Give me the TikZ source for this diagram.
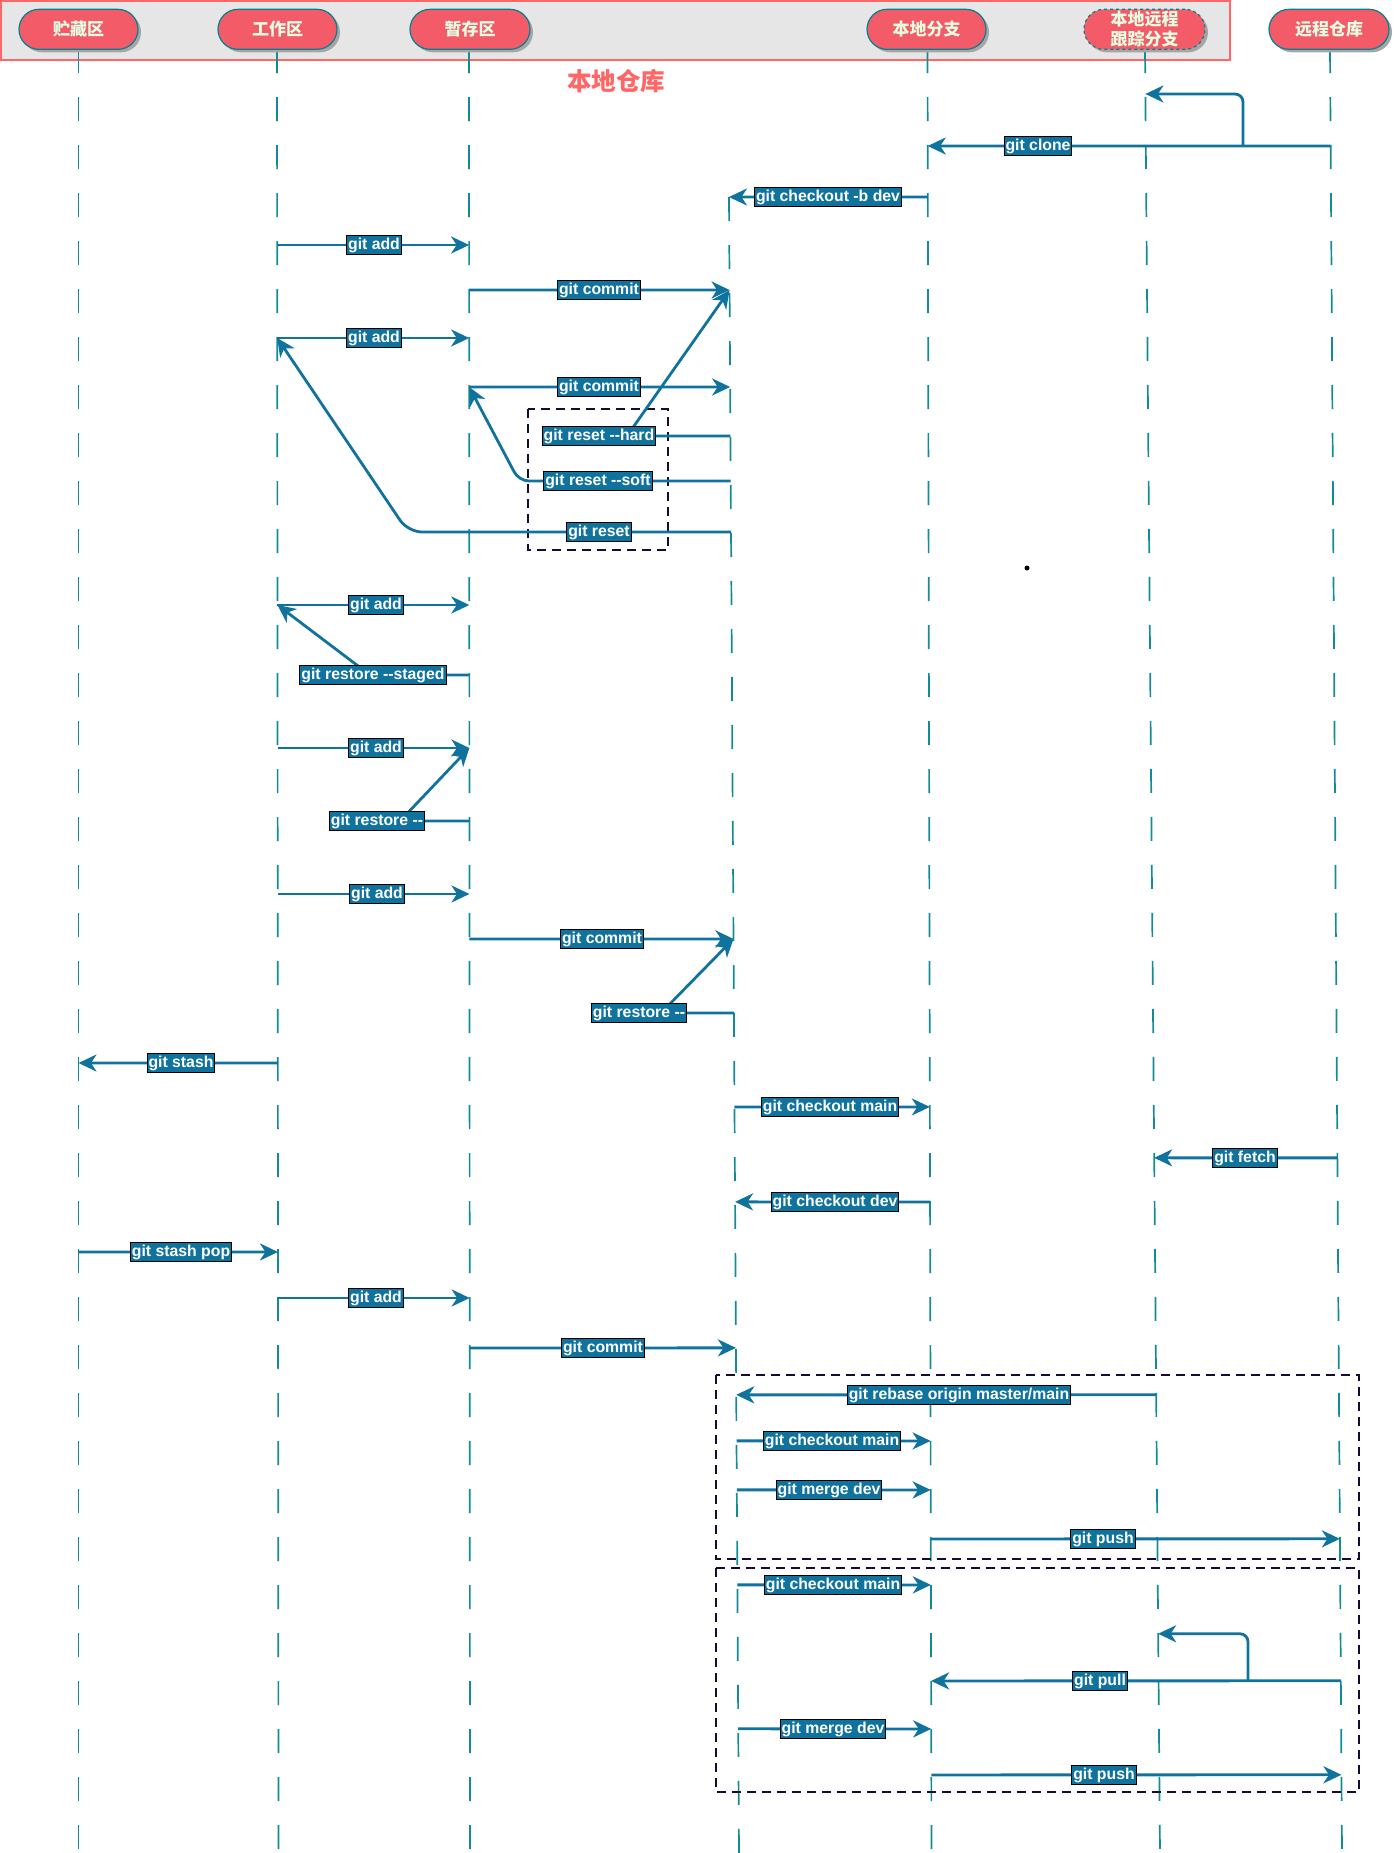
\documentclass[tikz,border=0pt]{standalone}
\usepackage{fontspec}
\setmainfont{Liberation Sans}
\newfontfamily\cjk{Noto Sans CJK SC}
\newfontfamily\lblf{Liberation Sans}
\usetikzlibrary{calc,arrows.meta,shadows}
\definecolor{msgc}{HTML}{10739E}
\definecolor{lifec}{HTML}{138A97}
\definecolor{pillf}{HTML}{F45B69}
\definecolor{pilld}{HTML}{028090}
\definecolor{pillt}{HTML}{E4FDE1}
\definecolor{hdrf}{HTML}{E6E6E6}
\definecolor{hdrd}{HTML}{FF6666}
\definecolor{grp}{HTML}{1A0A33}
\newcommand\mkpt[3]{\coordinate (tmp) at (#2t |- 0,#3);\coordinate (#1) at ($(#2t)!(tmp)!(#2b)$);}
\begin{document}
\begin{tikzpicture}[x=1pt,y=-1pt,
  lifeline/.style={draw=lifec, line width=1.7pt, dash pattern=on 24pt off 24pt},
  pill/.style={rectangle, rounded corners=20pt, minimum height=40pt, fill=pillf, draw=pilld, line width=1.2pt,
     text=pillt, font=\cjk\bfseries\fontsize{17}{19.5}\selectfont, align=center, inner ysep=1pt,
     drop shadow={shadow xshift=3pt, shadow yshift=-3pt, fill=black!35, opacity=1}},
  msg/.style={draw=msgc, line width=2.8pt, line join=round, -{Stealth[length=18pt,width=17pt,inset=5.5pt]}},
  lbl/.style={draw=black, line width=1pt, fill=msgc, text=white, font=\lblf\bfseries\fontsize{15.8}{18}\selectfont,
     inner xsep=1.5pt, inner ysep=2pt, text height=12pt, text depth=3.5pt},
  grpbox/.style={draw=grp, line width=2.8pt, dash pattern=on 9pt off 6pt}
]
\useasboundingbox (0,0) rectangle (1393,1853);
% header band
\draw[fill=hdrf, draw=hdrd, line width=1.5pt] (0.75,0.75) rectangle (1230,60);
\node[text=hdrd, font=\cjk\bfseries\fontsize{24.5}{28}\selectfont] (title) at (616,81) {本地仓库};
% lifelines
\coordinate (L1t) at (78.5,49);  \coordinate (L1b) at (78.5,1853);
\coordinate (L2t) at (277,49);   \coordinate (L2b) at (278.5,1853);
\coordinate (L3t) at (469,49);   \coordinate (L3b) at (470,1853);
\coordinate (L4t) at (729,197);  \coordinate (L4b) at (739,1853);
\coordinate (L5t) at (927.5,49); \coordinate (L5b) at (931.5,1853);
\coordinate (L6t) at (1145,49);  \coordinate (L6b) at (1160,1853);
\coordinate (L7t) at (1330,49);  \coordinate (L7b) at (1342,1853);
\foreach \i in {1,...,7} {\draw[lifeline] (L\i t) -- (L\i b);}
% participants
\node[pill, minimum width=119pt] (p1) at (78.5,29.3) {贮藏区};
\node[pill, minimum width=119pt] (p2) at (277.5,29.3) {工作区};
\node[pill, minimum width=120pt] (p3) at (470,29.3) {暂存区};
\node[pill, minimum width=119pt] (p5) at (926.5,29.3) {本地分支};
\node[pill, minimum width=121pt, dashed] (p6) at (1144.5,29.3) {本地远程\\跟踪分支};
\node[pill, minimum width=120pt] (p7) at (1329,29.3) {远程仓库};
% group boxes
\draw[grpbox] (528,409) rectangle (668,550);
\draw[grpbox] (716,1375) rectangle (1359,1559);
\draw[grpbox] (716,1568) rectangle (1359,1792);
% dot
\fill[black] (1027,568) circle (2.5pt);
% message end points
\mkpt{c7}{L7}{146} \mkpt{c5}{L5}{146} \mkpt{c6}{L6}{94} \coordinate (cbr) at (1243,146);
\mkpt{b5}{L5}{197} \mkpt{b4}{L4}{197}
\mkpt{a1s}{L2}{245} \mkpt{a1e}{L3}{245}
\mkpt{m1s}{L3}{290} \mkpt{m1e}{L4}{290}
\mkpt{a2s}{L2}{338} \mkpt{a2e}{L3}{338}
\mkpt{m2s}{L3}{387} \mkpt{m2e}{L4}{387}
\mkpt{rh}{L4}{436} \coordinate (rhc) at (627,436);
\mkpt{rs}{L4}{481} \coordinate (rsc) at (519,481);
\mkpt{rr}{L4}{532} \coordinate (rrc) at (408,532);
\mkpt{a3s}{L2}{605} \mkpt{a3e}{L3}{605}
\mkpt{rgs}{L3}{675} \coordinate (rgc) at (370,675);
\mkpt{a4s}{L2}{748} \mkpt{a4e}{L3}{748}
\mkpt{r1s}{L3}{821} \coordinate (r1c) at (400,821);
\mkpt{a5s}{L2}{894} \mkpt{a5e}{L3}{894}
\mkpt{m3s}{L3}{939} \mkpt{m3e}{L4}{939}
\mkpt{r2s}{L4}{1013} \coordinate (r2c) at (661,1013);
\mkpt{sts}{L2}{1063} \mkpt{ste}{L1}{1063}
\mkpt{k1s}{L4}{1107} \mkpt{k1e}{L5}{1107}
\mkpt{fs}{L7}{1158} \mkpt{fe}{L6}{1158}
\mkpt{kds}{L5}{1202} \mkpt{kde}{L4}{1202}
\mkpt{sps}{L1}{1252} \mkpt{spe}{L2}{1252}
\mkpt{a6s}{L2}{1298} \mkpt{a6e}{L3}{1298}
\mkpt{m4s}{L3}{1348} \mkpt{m4e}{L4}{1348}
\mkpt{rbs}{L6}{1395} \mkpt{rbe}{L4}{1395}
\mkpt{k2s}{L4}{1441} \mkpt{k2e}{L5}{1441}
\mkpt{g1s}{L4}{1490} \mkpt{g1e}{L5}{1490}
\mkpt{p1s}{L5}{1539} \mkpt{p1e}{L7}{1539}
\mkpt{k3s}{L4}{1585} \mkpt{k3e}{L5}{1585}
\mkpt{pls}{L7}{1681} \mkpt{ple}{L5}{1681} \mkpt{plt}{L6}{1634} \coordinate (plbr) at (1248,1681);
\mkpt{g2s}{L4}{1729} \mkpt{g2e}{L5}{1729}
\mkpt{p2s}{L5}{1775} \mkpt{p2e}{L7}{1775}
% messages
\draw[msg] (c7) -- (c5);
\draw[msg, rounded corners=8pt] (cbr) |- (c6);
\draw[msg] (b5) -- (b4);
\draw[msg] (a1s) -- (a1e);
\draw[msg] (m1s) -- (m1e);
\draw[msg] (a2s) -- (a2e);
\draw[msg] (m2s) -- (m2e);
\draw[msg] (rh) -- (rhc) -- (m1e);
\draw[msg, rounded corners=10pt] (rs) -- (rsc) -- (m2s);
\draw[msg, rounded corners=14pt] (rr) -- (rrc) -- (a2s);
\draw[msg] (a3s) -- (a3e);
\draw[msg] (rgs) -- (rgc) -- (a3s);
\draw[msg] (a4s) -- (a4e);
\draw[msg] (r1s) -- (r1c) -- (a4e);
\draw[msg] (a5s) -- (a5e);
\draw[msg] (m3s) -- (m3e);
\draw[msg] (r2s) -- (r2c) -- (m3e);
\draw[msg] (sts) -- (ste);
\draw[msg] (k1s) -- (k1e);
\draw[msg] (fs) -- (fe);
\draw[msg] (kds) -- (kde);
\draw[msg] (sps) -- (spe);
\draw[msg] (a6s) -- (a6e);
\draw[msg] (m4s) -- (m4e);
\draw[msg] (rbs) -- (rbe);
\draw[msg] (k2s) -- (k2e);
\draw[msg] (g1s) -- (g1e);
\draw[msg] (p1s) -- (p1e);
\draw[msg] (k3s) -- (k3e);
\draw[msg] (pls) -- (ple);
\draw[msg, rounded corners=8pt] (plbr) |- (plt);
\draw[msg] (g2s) -- (g2e);
\draw[msg] (p2s) -- (p2e);
% labels
\node[lbl] (lclone) at (1038,146) {git clone};
\node[lbl] (lcob) at (828,197) {git checkout -b dev};
\node[lbl] (ladd1) at (374,245) {git add};
\node[lbl] (lcm1) at (599,290) {git commit};
\node[lbl] (ladd2) at (374,338) {git add};
\node[lbl] (lcm2) at (599,387) {git commit};
\node[lbl] (lrh) at (599,436) {git reset -{}-hard};
\node[lbl] (lrs) at (598,481) {git reset -{}-soft};
\node[lbl] (lrr) at (599,532) {git reset};
\node[lbl] (ladd3) at (376,605) {git add};
\node[lbl] (lrg) at (373,675) {git restore -{}-staged};
\node[lbl] (ladd4) at (376,748) {git add};
\node[lbl] (lr1) at (377,821) {git restore -{}-};
\node[lbl] (ladd5) at (377,894) {git add};
\node[lbl] (lcm3) at (602,939) {git commit};
\node[lbl] (lr2) at (639,1013) {git restore -{}-};
\node[lbl] (lst) at (181,1063) {git stash};
\node[lbl] (lk1) at (830,1107) {git checkout main};
\node[lbl] (lf) at (1245,1158) {git fetch};
\node[lbl] (lkd) at (835,1202) {git checkout dev};
\node[lbl] (lsp) at (181,1252) {git stash pop};
\node[lbl] (ladd6) at (376,1298) {git add};
\node[lbl] (lcm4) at (603,1348) {git commit};
\node[lbl] (lrb) at (959,1395) {git rebase origin master/main};
\node[lbl] (lk2) at (832,1441) {git checkout main};
\node[lbl] (lg1) at (829,1490) {git merge dev};
\node[lbl] (lp1) at (1103,1539) {git push};
\node[lbl] (lk3) at (833,1585) {git checkout main};
\node[lbl] (lpl) at (1100,1681) {git pull};
\node[lbl] (lg2) at (833,1729) {git merge dev};
\node[lbl] (lp2) at (1104,1775) {git push};
\end{tikzpicture}
\end{document}
